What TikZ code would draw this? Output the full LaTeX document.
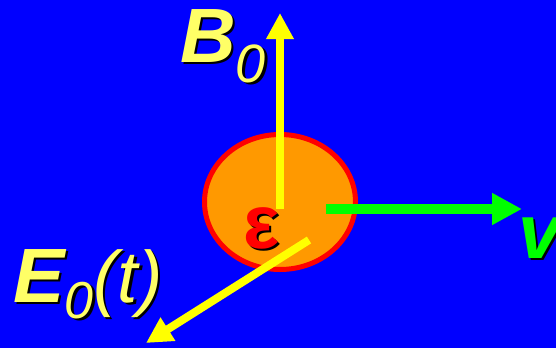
\documentclass[tikz,border=0pt]{standalone}
\usepackage{fontspec}
\setmainfont{Liberation Sans}
\usepackage{tikz}
\usetikzlibrary{arrows.meta,shapes.geometric}
\definecolor{bgblue}{RGB}{0,0,255}
\definecolor{pyellow}{RGB}{255,255,0}
\definecolor{lyellow}{RGB}{255,255,102}
\definecolor{pgreen}{RGB}{0,255,0}
\definecolor{porange}{RGB}{255,153,0}
\definecolor{pred}{RGB}{255,0,0}

\begin{document}
\begin{tikzpicture}[x=1pt, y=-1pt,
    particle/.style={ellipse, draw=pred, line width=5pt, fill=porange,
                     minimum width=151pt, minimum height=135pt, inner sep=0pt},
    lbl/.style={anchor=base west, inner sep=0pt, font=\fontsize{77}{77}\selectfont\bfseries\itshape},
    yarr/.style={pyellow, line width=8pt, -{Triangle[length=26pt, width=26pt]}},
    garr/.style={pgreen, line width=10pt, -{Triangle[length=30pt, width=30pt]}}
  ]
    % background
    \fill[bgblue] (0,0) rectangle (556,348);
    \useasboundingbox (0,0) rectangle (556,348);

    % particle
    \node[particle] (part) at (280,202) {};
    \node[lbl, black, font=\fontsize{76}{76}\selectfont\bfseries] (epsshadow) at (245.5,250.5) {ε};
    \node[lbl, pred, font=\fontsize{76}{76}\selectfont\bfseries] (eps) at (243,248) {ε};

    % arrows
    \coordinate (Bfoot) at (280,209);
    \coordinate (Btip)  at (280,13);
    \coordinate (vfoot) at (326,209);
    \coordinate (vtip)  at (522,209);
    \coordinate (Efoot) at (309,240);
    \coordinate (Etip)  at (146,343);
    \draw[yarr] (Bfoot) -- (Btip);
    \draw[garr] (vfoot) -- (vtip);
    \draw[yarr] (Efoot) -- (Etip);

    % labels
    \node[lbl, black] (Bshadow) at (182.5,64.5) {B\raisebox{-20pt}{\fontsize{54}{54}\selectfont\mdseries 0}};
    \node[lbl, lyellow] (Blbl) at (180,62) {B\raisebox{-20pt}{\fontsize{54}{54}\selectfont\mdseries 0}};

    \node[lbl, black] (Eshadow) at (15.5,304.5) {E\raisebox{-16pt}{\fontsize{52}{52}\selectfont\mdseries 0}{\fontsize{73}{73}\selectfont\mdseries(t)}};
    \node[lbl, lyellow] (Elbl) at (13,302) {E\raisebox{-16pt}{\fontsize{52}{52}\selectfont\mdseries 0}{\fontsize{73}{73}\selectfont\mdseries(t)}};

    \node[lbl, black] (vshadow) at (520.5,260.5) {v};
    \node[lbl, pgreen] (vlbl) at (518,258) {v};
\end{tikzpicture}
\end{document}
